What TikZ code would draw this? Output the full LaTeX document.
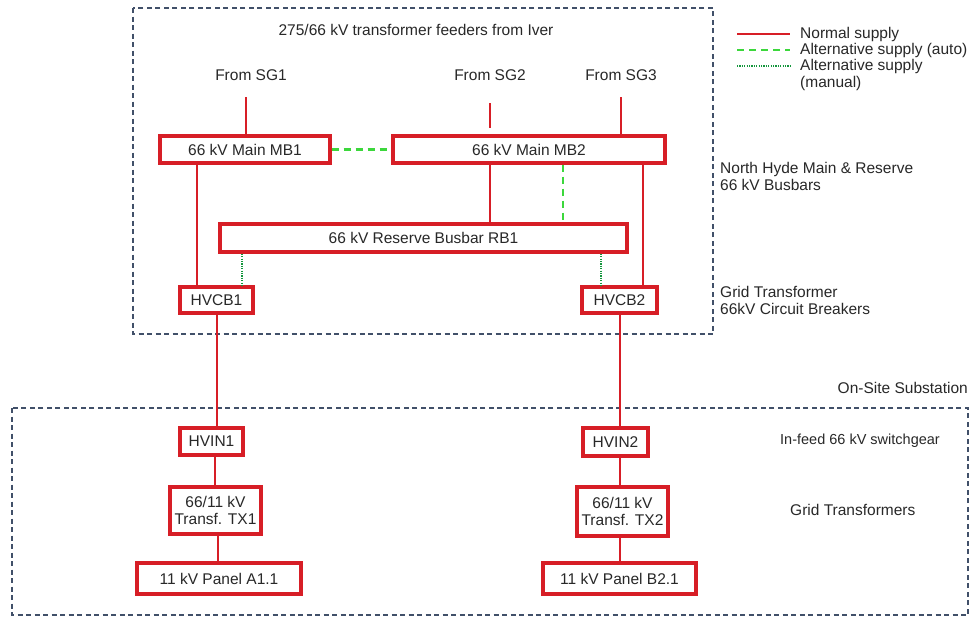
\documentclass[tikz,border=0pt]{standalone}
\usepackage{fontspec}
\setmainfont{Liberation Sans}
\definecolor{supred}{RGB}{215,30,38}
\definecolor{autogreen}{RGB}{60,215,60}
\definecolor{mangreen}{RGB}{20,150,60}
\definecolor{framecol}{RGB}{65,80,105}
\definecolor{txt}{RGB}{40,40,40}
\tikzset{
  unit/.style={draw=supred, line width=3.4pt, fill=white, inner sep=0pt, text=txt, font=\fontsize{15.5}{17.5}\selectfont, align=center},
  lbl/.style={inner sep=0pt, text=txt, font=\fontsize{15.5}{17}\selectfont, align=left},
  normal/.style={draw=supred, line width=2.4pt},
  autoalt/.style={draw=autogreen, line width=2.4pt, dash pattern=on 7pt off 5pt},
  manalt/.style={draw=mangreen, line width=2.4pt, dash pattern=on 1.2pt off 1.2pt},
  frame/.style={draw=framecol, line width=1.5pt, dash pattern=on 5pt off 3.5pt}
}
\begin{document}
\begin{tikzpicture}[x=1pt,y=-1pt]
\useasboundingbox[fill=white] (0,0) rectangle (971,619);
% frames
\draw[frame] (133,8) rectangle (713,334);
\draw[frame] (12,408) rectangle (968,615);
% title and right labels
\node[lbl] (title) at (416,30) {275/66 kV transformer feeders from Iver};
\node[lbl, anchor=west] (nh) at (720,176) {North Hyde Main \& Reserve\\66 kV Busbars};
\node[lbl, anchor=west] (gt) at (720,300) {Grid Transformer\\66kV Circuit Breakers};
\node[lbl, anchor=east] (oss) at (968,388) {On-Site Substation};
\node[lbl, anchor=west, font=\fontsize{14.5}{17}\selectfont] (inf) at (780,441) {In-feed 66 kV switchgear};
\node[lbl, anchor=west] (gtx) at (790,510) {Grid Transformers};
% legend
\coordinate (l1a) at (737,34); \coordinate (l1b) at (790,34);
\coordinate (l2a) at (737,50); \coordinate (l2b) at (790,50);
\coordinate (l3a) at (737,66); \coordinate (l3b) at (790,66);
\draw[normal] (l1a) -- (l1b);
\draw[autoalt] (l2a) -- (l2b);
\draw[manalt] (l3a) -- (l3b);
\node[lbl, anchor=west] (lg1) at (800,34) {Normal supply};
\node[lbl, anchor=west] (lg2) at (800,50) {Alternative supply (auto)};
\node[lbl, anchor=north west] (lg3) at (800,59) {Alternative supply\\(manual)};
% source labels
\node[lbl] (sg1) at (251,75) {From SG1};
\node[lbl] (sg2) at (490,75) {From SG2};
\node[lbl] (sg3) at (621,75) {From SG3};
% units
\node[unit, minimum width=170, minimum height=27] (MB1) at (245,149.5) {66 kV Main MB1};
\node[unit, minimum width=272, minimum height=27] (MB2) at (529,149.5) {66 kV Main MB2};
\node[unit, minimum width=407, minimum height=28] (RB1) at (423.5,238) {66 kV Reserve Busbar RB1};
\node[unit, minimum width=73, minimum height=26] (HVCB1) at (216.5,300) {HVCB1};
\node[unit, minimum width=75, minimum height=26] (HVCB2) at (619.5,300) {HVCB2};
\node[unit, minimum width=63, minimum height=27] (HVIN1) at (211.5,441.5) {HVIN1};
\node[unit, minimum width=65, minimum height=28] (HVIN2) at (615.5,442) {HVIN2};
\node[unit, minimum width=91, minimum height=47] (TX1) at (215.5,510.5) {66/11 kV\\Transf. TX1};
\node[unit, minimum width=91, minimum height=49] (TX2) at (622.5,511.5) {66/11 kV\\Transf. TX2};
\node[unit, minimum width=164, minimum height=31] (PA) at (219,578.5) {11 kV Panel A1.1};
\node[unit, minimum width=153, minimum height=31] (PB) at (619.5,578.5) {11 kV Panel B2.1};
% source feeders
\coordinate (s1) at (246,97);
\coordinate (s2a) at (490,103); \coordinate (s2b) at (490,128);
\coordinate (s3) at (621,97);
\draw[normal] (s1) -- (s1 |- MB1.north);
\draw[normal] (s2a) -- (s2b);
\draw[normal] (s3) -- (s3 |- MB2.north);
% main connections
\draw[normal] (MB1.south -| 197,0) -- (HVCB1.north -| 197,0);
\draw[normal] (MB2.south -| 490,0) -- (RB1.north -| 490,0);
\draw[normal] (MB2.south -| 643,0) -- (HVCB2.north -| 643,0);
\draw[autoalt] (MB1.east) -- (MB2.west);
\draw[autoalt] (MB2.south -| 563,0) -- (RB1.north -| 563,0);
\draw[manalt] (RB1.south -| 242,0) -- (HVCB1.north -| 242,0);
\draw[manalt] (RB1.south -| 601,0) -- (HVCB2.north -| 601,0);
\draw[normal] (HVCB1.south -| 217,0) -- (HVIN1.north -| 217,0);
\draw[normal] (HVCB2.south -| 620,0) -- (HVIN2.north -| 620,0);
\draw[normal] (HVIN1.south -| 215,0) -- (TX1.north -| 215,0);
\draw[normal] (HVIN2.south -| 620,0) -- (TX2.north -| 620,0);
\draw[normal] (TX1.south -| 218,0) -- (PA.north -| 218,0);
\draw[normal] (TX2.south -| 620,0) -- (PB.north -| 620,0);
\end{tikzpicture}
\end{document}
